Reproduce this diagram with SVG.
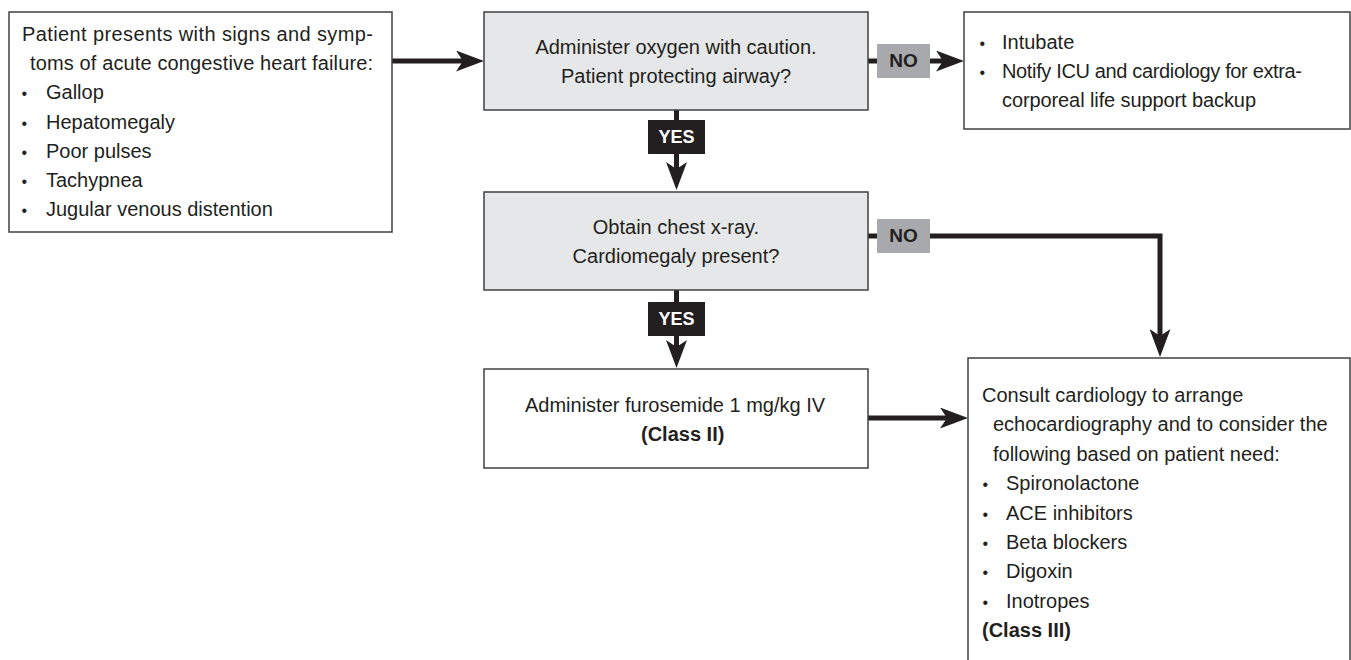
<svg xmlns="http://www.w3.org/2000/svg" width="1351" height="660" viewBox="0 0 1351 660">
<style>
.box{fill:#ffffff;stroke:#414042;stroke-width:1.5}
.gbox{fill:#e6e7e8;stroke:#414042;stroke-width:1.5}
.t{font-family:"Liberation Sans",Arial,sans-serif;font-size:20px;fill:#231f20}
.bl{font-family:"Liberation Sans",Arial,sans-serif;font-size:16px;fill:#231f20}
.c{text-anchor:middle}
.b{font-weight:bold}
.conn{fill:none;stroke:#231f20;stroke-width:5}
.no{fill:#a7a9ac}
.yes{fill:#231f20}
.lno{font-family:"Liberation Sans",Arial,sans-serif;font-size:19px;font-weight:bold;fill:#231f20;text-anchor:middle}
.lyes{font-family:"Liberation Sans",Arial,sans-serif;font-size:18px;font-weight:bold;fill:#ffffff;text-anchor:middle}
</style>
<defs>
<marker id="ah" viewBox="0 0 28 21" refX="7" refY="10.5" markerWidth="28" markerHeight="21" markerUnits="userSpaceOnUse" orient="auto">
<path d="M0,0 L28,10.5 L0,21 L7,10.5 Z" fill="#231f20"/>
</marker>
</defs>
<rect width="1351" height="660" fill="#ffffff"/>

<g id="connectors">
<path class="conn" d="M392,61 H463" marker-end="url(#ah)"/>
<path class="conn" d="M868,61 H943" marker-end="url(#ah)"/>
<path class="conn" d="M676.5,110 V169" marker-end="url(#ah)"/>
<path class="conn" d="M868,236 H1160 V336" marker-end="url(#ah)"/>
<path class="conn" d="M676.5,290 V347" marker-end="url(#ah)"/>
<path class="conn" d="M868,418 H947" marker-end="url(#ah)"/>
<g id="label-no1"><rect class="no" x="877" y="44" width="53" height="34"/><text class="lno" x="903.5" y="67">NO</text></g>
<g id="label-no2"><rect class="no" x="877" y="219" width="53" height="34"/><text class="lno" x="903.5" y="242">NO</text></g>
<g id="label-yes1"><rect class="yes" x="648" y="120" width="57" height="34"/><text class="lyes" x="676.5" y="143">YES</text></g>
<g id="label-yes2"><rect class="yes" x="648" y="302" width="57" height="34"/><text class="lyes" x="676.5" y="325">YES</text></g>
</g>

<g id="node-presentation">
<rect class="box" x="9" y="12" width="383" height="220"/>
<text class="t" x="22" y="41" textLength="351" lengthAdjust="spacing">Patient presents with signs and symp-</text>
<text class="t" x="30" y="70" textLength="343" lengthAdjust="spacing">toms of acute congestive heart failure:</text>
<text class="bl" x="21.5" y="99">•</text><text class="t" x="46" y="99">Gallop</text>
<text class="bl" x="21.5" y="129">•</text><text class="t" x="46" y="129">Hepatomegaly</text>
<text class="bl" x="21.5" y="158">•</text><text class="t" x="46" y="158">Poor pulses</text>
<text class="bl" x="21.5" y="187">•</text><text class="t" x="46" y="187">Tachypnea</text>
<text class="bl" x="21.5" y="216">•</text><text class="t" x="46" y="216">Jugular venous distention</text>
</g>

<g id="node-oxygen">
<rect class="gbox" x="484" y="12" width="384" height="98"/>
<text class="t c" x="676" y="54">Administer oxygen with caution.</text>
<text class="t c" x="676" y="83">Patient protecting airway?</text>
</g>

<g id="node-intubate">
<rect class="box" x="964" y="12" width="386" height="117"/>
<text class="bl" x="979.5" y="49">•</text><text class="t" x="1002" y="49">Intubate</text>
<text class="bl" x="979.5" y="78">•</text><text class="t" x="1002" y="78" textLength="300" lengthAdjust="spacing">Notify ICU and cardiology for extra-</text>
<text class="t" x="1002" y="107" textLength="254" lengthAdjust="spacing">corporeal life support backup</text>
</g>

<g id="node-xray">
<rect class="gbox" x="484" y="192" width="384" height="98"/>
<text class="t c" x="676" y="234">Obtain chest x-ray.</text>
<text class="t c" x="676" y="263">Cardiomegaly present?</text>
</g>

<g id="node-furosemide">
<rect class="box" x="484" y="369" width="384" height="99"/>
<text class="t c" x="675" y="412">Administer furosemide 1 mg/kg IV</text>
<text class="t b" x="641" y="441">(Class II)</text>
</g>

<g id="node-consult">
<rect class="box" x="968" y="358" width="382" height="310"/>
<text class="t" x="982" y="402">Consult cardiology to arrange</text>
<text class="t" x="993" y="431">echocardiography and to consider the</text>
<text class="t" x="993" y="461">following based on patient need:</text>
<text class="bl" x="982.5" y="490">•</text><text class="t" x="1006" y="490">Spironolactone</text>
<text class="bl" x="982.5" y="520">•</text><text class="t" x="1006" y="520">ACE inhibitors</text>
<text class="bl" x="982.5" y="549">•</text><text class="t" x="1006" y="549">Beta blockers</text>
<text class="bl" x="982.5" y="578">•</text><text class="t" x="1006" y="578">Digoxin</text>
<text class="bl" x="982.5" y="608">•</text><text class="t" x="1006" y="608">Inotropes</text>
<text class="t b" x="982" y="637">(Class III)</text>
</g>
</svg>
